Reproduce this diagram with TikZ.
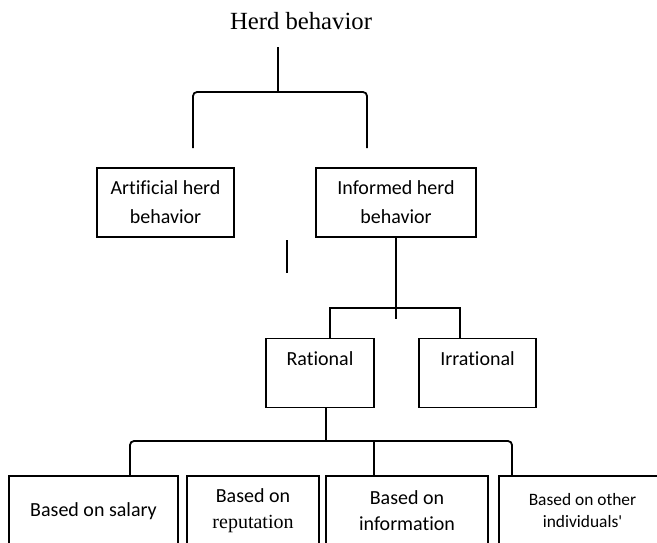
\documentclass[tikz,border=0pt]{standalone}
\usepackage{fontspec}
\setmainfont[Ligatures={NoCommon}]{Carlito}
\newfontfamily\timesfont{Liberation Serif}
\begin{document}
\begin{tikzpicture}
[x=0.5pt,y=-0.5pt,line width=0.9pt,
 herdbox/.style={rectangle,draw,inner sep=0pt,align=center,minimum height=34.5pt,font=\fontsize{10}{14.5}\selectfont},
 basebox/.style={herdbox,minimum height=35pt,font=\fontsize{10}{13}\selectfont}]
\useasboundingbox (0,0) rectangle (657,542);
\clip (0,0) rectangle (657,542);

\node (herd) at (301,29) [anchor=base,font=\timesfont\fontsize{12.35}{14}\selectfont] {Herd behavior};
\node (art) at (165.5,202.5) [herdbox,minimum width=68.5pt] {Artificial herd\\behavior};
\node (inf) at (396,202.5) [herdbox,minimum width=80pt] {Informed herd\\behavior};
\node (rat) at (320,373) [herdbox,minimum width=54pt] {Rational\\\mbox{}};
\node (irr) at (477.5,373) [herdbox,minimum width=58.5pt] {Irrational\\\mbox{}};
\node (sal) at (93.5,511) [basebox,minimum width=84.5pt] {Based on salary};
\node (rep) at (253,511) [basebox,minimum width=66pt] {Based on\\{\timesfont reputation}};
\node (infn) at (407,511) [basebox,minimum width=81pt] {Based on\\information};
\node (oth) at (582.5,511) [basebox,minimum width=83.5pt,font=\fontsize{8.7}{11}\selectfont] {Based on other\\individuals\textquotesingle};

\coordinate (herdstem) at (278,47);
\coordinate (j1) at (278,92);
\coordinate (artend) at (193,148);
\coordinate (infend) at (367,148);
\draw (herdstem) -- (j1);
\draw[rounded corners=2pt] (artend) |- (j1) -| (infend);

\draw (287,240) -- (287,273);

\coordinate (j2) at (396,308);
\draw (inf.south) -- ++(0,81);
\draw ([xshift=5pt]rat.north) |- (j2) -| ([xshift=-8.75pt]irr.north);

\coordinate (j3) at (326,441);
\draw ([xshift=3pt]rat.south) -- (j3);
\draw[rounded corners=2pt] ([xshift=18.25pt]sal.north) |- (j3) -| ([xshift=-35.25pt]oth.north);
\draw ([xshift=-16.5pt]infn.north) -- ++(0,-35);

\end{tikzpicture}
\end{document}
